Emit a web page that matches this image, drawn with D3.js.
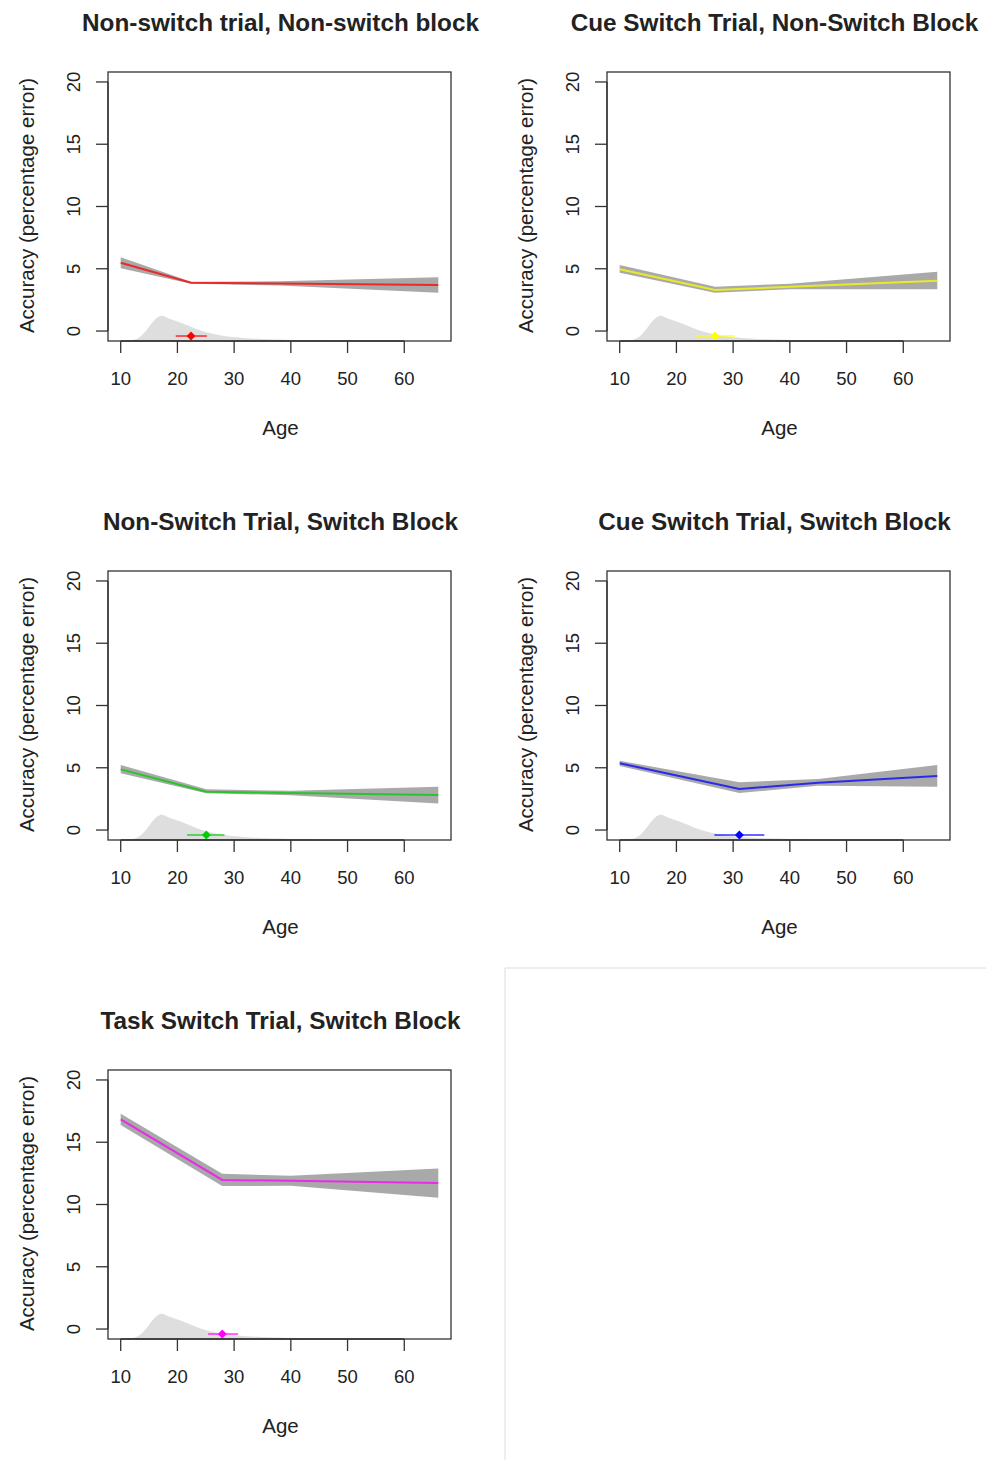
<!DOCTYPE html>
<html>
<head>
<meta charset="utf-8">
<script src="https://cdn.jsdelivr.net/npm/d3@7"></script>
<style>
  body { margin: 0; background: #fff; }
  text { font-family: "Liberation Sans", Arial, sans-serif; fill: #222; }
</style>
</head>
<body>
<script>
// panel titles and colours
const titles = [
  "Non-switch trial, Non-switch block",
  "Cue Switch Trial, Non-Switch Block",
  "Non-Switch Trial, Switch Block",
  "Cue Switch Trial, Switch Block",
  "Task Switch Trial, Switch Block"
];
const colors = ["#ff0000", "#ffff00", "#00cd00", "#0000ff", "#ff00ff"];

// fitted segmented line: [start, breakpoint, mid, end]
const fitAges = [
  [10, 22.4, 38, 66],
  [10, 26.8, 40, 66],
  [10, 25.1, 40, 66],
  [10, 31.1, 45, 66],
  [10, 27.9, 40, 66]
];
const fitValues = [
  [5.49, 3.88, 3.82, 3.69],
  [4.96, 3.29, 3.55, 4.04],
  [4.87, 3.08, 2.98, 2.81],
  [5.36, 3.29, 3.80, 4.34],
  [16.84, 11.97, 11.90, 11.73]
];
const bandUpper = [
  [5.92, 3.95, 4.00, 4.31],
  [5.30, 3.56, 3.80, 4.76],
  [5.22, 3.27, 3.15, 3.48],
  [5.56, 3.83, 4.10, 5.22],
  [17.29, 12.47, 12.30, 12.90]
];
const bandLower = [
  [5.04, 3.80, 3.65, 3.08],
  [4.68, 3.08, 3.35, 3.35],
  [4.55, 2.95, 2.80, 2.14],
  [5.14, 2.97, 3.55, 3.48],
  [16.39, 11.49, 11.50, 10.55]
];

// breakpoint estimate with interval
const bpAge = [22.4, 26.8, 25.1, 31.1, 27.9];
const bpLow = [19.7, 23.4, 21.7, 26.7, 25.4];
const bpHigh = [25.2, 30.3, 28.3, 35.5, 30.7];
const bpY = -0.4;

// age distribution (shared)
const densAge = [10, 12, 13, 14, 15, 16, 17, 18, 19, 20, 21, 22, 23, 24, 25, 26, 28, 30, 33, 36, 40, 45, 50, 55];
const densVal = [-0.8, -0.76, -0.62, -0.25, 0.35, 0.95, 1.3, 1.12, 0.9, 0.78, 0.62, 0.42, 0.22, 0.06, -0.08, -0.2, -0.38, -0.5, -0.6, -0.67, -0.72, -0.76, -0.78, -0.8];

const xTicks = [10, 20, 30, 40, 50, 60];
const yTicks = [0, 5, 10, 15, 20];

const W = 986, H = 1460;
const boxW = 343, boxH = 269;
const colLeft = [108, 607];
const rowTop = [72, 571, 1070];

const svg = d3.select("body").append("svg")
  .attr("width", W).attr("height", H);

svg.append("rect").attr("width", W).attr("height", H).attr("fill", "#fff");

// empty bottom-right cell outline
svg.append("path")
  .attr("d", `M505,${H} L505,968 L${W},968`)
  .attr("fill", "none").attr("stroke", "#dcdcdc").attr("stroke-width", 1);

titles.forEach((title, i) => {
  const col = i % 2;
  const left = colLeft[col];
  const top = rowTop[Math.floor(i / 2)];
  const g = svg.append("g").attr("transform", `translate(${left},${top})`);

  const x = d3.scaleLinear().domain([7.76, 68.24]).range([0, boxW]);
  const y = d3.scaleLinear().domain([-0.8, 20.8]).range([boxH, 0]);

  // density of ages
  const dens = densAge.map((a, k) => [a, densVal[k]]);
  g.append("path")
    .datum(dens)
    .attr("fill", "#dedede")
    .attr("d", d3.area().x(d => x(d[0])).y0(y(-0.8)).y1(d => y(d[1])).curve(d3.curveBasis));

  // confidence band
  const band = fitAges[i].map((a, k) => [a, bandLower[i][k], bandUpper[i][k]]);
  g.append("path")
    .datum(band)
    .attr("fill", "#a9a9a9")
    .attr("d", d3.area().x(d => x(d[0])).y0(d => y(d[1])).y1(d => y(d[2])));

  // fitted line
  const fit = fitAges[i].map((a, k) => [a, fitValues[i][k]]);
  g.append("path")
    .datum(fit)
    .attr("fill", "none")
    .attr("stroke", colors[i])
    .attr("stroke-opacity", 0.75)
    .attr("stroke-width", 2)
    .attr("d", d3.line().x(d => x(d[0])).y(d => y(d[1])));

  // breakpoint marker
  g.append("line")
    .attr("x1", x(bpLow[i])).attr("x2", x(bpHigh[i]))
    .attr("y1", y(bpY)).attr("y2", y(bpY))
    .attr("stroke", colors[i]).attr("stroke-opacity", 0.8).attr("stroke-width", 1.5);
  g.append("path")
    .attr("transform", `translate(${x(bpAge[i])},${y(bpY)})`)
    .attr("d", d3.symbol(d3.symbolDiamond2, 50)())
    .attr("fill", colors[i]);

  // box
  g.append("rect")
    .attr("width", boxW).attr("height", boxH)
    .attr("fill", "none").attr("stroke", "#333").attr("stroke-width", 1.3);

  // x axis
  const xa = g.append("g").attr("transform", `translate(0,${boxH})`);
  xa.append("line").attr("x1", x(10)).attr("x2", x(60)).attr("stroke", "#333").attr("stroke-width", 1.3);
  xTicks.forEach(t => {
    xa.append("line").attr("x1", x(t)).attr("x2", x(t)).attr("y1", 0).attr("y2", 12)
      .attr("stroke", "#333").attr("stroke-width", 1.3);
    xa.append("text").attr("x", x(t)).attr("y", 44)
      .attr("text-anchor", "middle").attr("font-size", 18.5).text(t);
  });
  xa.append("text").attr("x", boxW / 2 + 1).attr("y", 94)
    .attr("text-anchor", "middle").attr("font-size", 20.5).text("Age");

  // y axis
  const ya = g.append("g");
  ya.append("line").attr("y1", y(0)).attr("y2", y(20)).attr("stroke", "#333").attr("stroke-width", 1.3);
  yTicks.forEach(t => {
    ya.append("line").attr("x1", -12).attr("x2", 0).attr("y1", y(t)).attr("y2", y(t))
      .attr("stroke", "#333").attr("stroke-width", 1.3);
    ya.append("text")
      .attr("transform", `translate(-28,${y(t)}) rotate(-90)`)
      .attr("text-anchor", "middle").attr("font-size", 18.5).text(t);
  });
  ya.append("text")
    .attr("transform", `translate(-74,${boxH / 2 - 1}) rotate(-90)`)
    .attr("text-anchor", "middle").attr("font-size", 20.5)
    .text("Accuracy (percentage error)");

  // title
  g.append("text").attr("x", col === 0 ? boxW / 2 + 1 : boxW / 2 - 4).attr("y", -41)
    .attr("text-anchor", "middle").attr("font-size", 24.3).attr("font-weight", "bold")
    .attr("fill", "#111").text(title);
});
</script>
</body>
</html>
